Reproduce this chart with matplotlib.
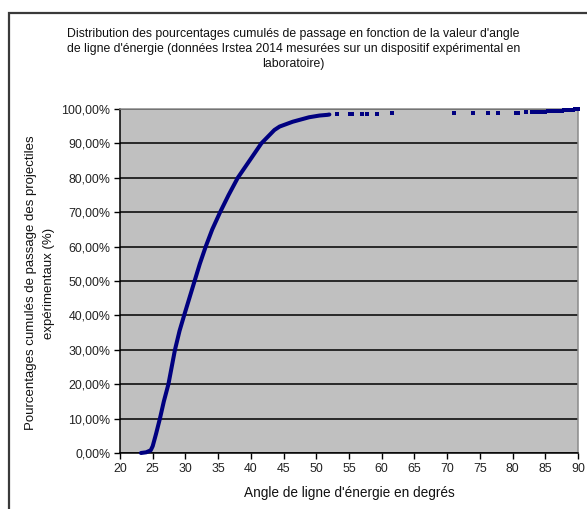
import matplotlib
matplotlib.use("Agg")
import matplotlib.pyplot as plt
from matplotlib.patches import Rectangle
from matplotlib.ticker import FuncFormatter

plt.rcParams['font.family'] = ['Liberation Sans', 'DejaVu Sans']

# Main body of the cumulative curve (angle in degrees, cumulative %)
angles_main = [23.2, 24.0, 24.7, 25.0, 25.5, 26.1, 26.7, 27.4, 27.9, 28.4,
               29.1, 29.8, 30.6, 31.4, 32.2, 33.1, 34.1, 35.3, 36.6, 38.0,
               40.2, 41.6, 43.6, 44.4, 45.4, 46.4, 48.9, 50.5, 51.7, 52.0]
pct_main = [0.0, 0.2, 0.8, 2.0, 5.5, 10.0, 15.0, 20.0, 25.0, 30.0,
            35.5, 40.0, 45.0, 50.0, 55.0, 60.0, 65.0, 70.0, 75.0, 80.0,
            86.1, 90.0, 93.9, 94.9, 95.6, 96.3, 97.6, 98.1, 98.3, 98.4]

# Sparse high-angle measurements
angles_tail = [53.2, 55.1, 55.5, 57.0, 57.8, 59.3, 61.5, 71.1, 73.9, 76.2,
               77.7, 80.6, 80.9, 82.1, 82.9, 83.3, 83.6, 84.1, 84.6, 85.0,
               85.4, 85.7, 86.1, 86.6, 87.0, 87.5, 87.9, 88.4, 88.8, 89.2,
               89.6, 90.0]
pct_tail = [98.5, 98.55, 98.55, 98.6, 98.6, 98.65, 98.7, 98.75, 98.8, 98.8,
            98.8, 98.85, 98.9, 99.0, 99.05, 99.1, 99.1, 99.15, 99.2, 99.25,
            99.3, 99.3, 99.35, 99.4, 99.45, 99.5, 99.6, 99.65, 99.7, 99.8,
            99.9, 100.0]

x_ticks = list(range(20, 91, 5))
y_ticks = list(range(0, 101, 10))

title = ("Distribution des pourcentages cumulés de passage en fonction de la valeur d'angle\n"
         "de ligne d'énergie (données Irstea 2014 mesurées sur un dispositif expérimental en\n"
         "laboratoire)")
xlabel = "Angle de ligne d'énergie en degrés"
ylabel = "Pourcentages cumulés de passage des projectiles\nexpérimentaux (%)"

W, H = 587, 509
fig = plt.figure(figsize=(W / 100, H / 100), dpi=100)
fig.patch.set_facecolor('white')

# outer chart frame
fig.patches.append(Rectangle((9 / W, -0.02), 1.05, 1 - 13 / H + 0.02,
                             transform=fig.transFigure, fill=False,
                             edgecolor='#3a3a3a', linewidth=1.6))

ax = fig.add_axes([120 / W, 1 - 453 / H, (578 - 120) / W, (453 - 109) / H])
ax.set_facecolor('#C0C0C0')

ax.set_xlim(20, 90)
ax.set_ylim(0, 100)
ax.set_xticks(x_ticks)
ax.set_yticks(y_ticks)
ax.yaxis.set_major_formatter(FuncFormatter(lambda v, p: f"{v:.2f}".replace('.', ',') + "%"))

ax.grid(axis='y', color='black', linewidth=1.1)
ax.set_axisbelow(True)

for side in ('left', 'bottom'):
    ax.spines[side].set_color('black')
    ax.spines[side].set_linewidth(1.1)
for side in ('top', 'right'):
    ax.spines[side].set_color('#8a8a8a')
    ax.spines[side].set_linewidth(1.1)

ax.tick_params(axis='both', direction='out', length=4, width=1.0,
               color='black', labelsize=8.9, labelcolor='#222222', pad=3)

ax.plot(angles_main, pct_main, color='#000080', linewidth=2.9,
        solid_capstyle='round', solid_joinstyle='round', clip_on=False, zorder=3)
ax.plot(angles_tail, pct_tail, linestyle='none', marker='s', markersize=2.3,
        color='#000080', markeredgewidth=0, clip_on=False, zorder=3)

fig.text(0.5, 1 - 49 / H, title, ha='center', va='center', fontsize=8.8,
         linespacing=1.3, color='#111111')
ax.set_xlabel(xlabel, fontsize=9.8, color='#111111', labelpad=8)
fig.text(40 / W, 1 - 283 / H, ylabel, rotation=90, ha='center', va='center',
         fontsize=9.5, linespacing=1.65, multialignment='center', color='#111111')

fig.savefig('out.png', dpi=100)
